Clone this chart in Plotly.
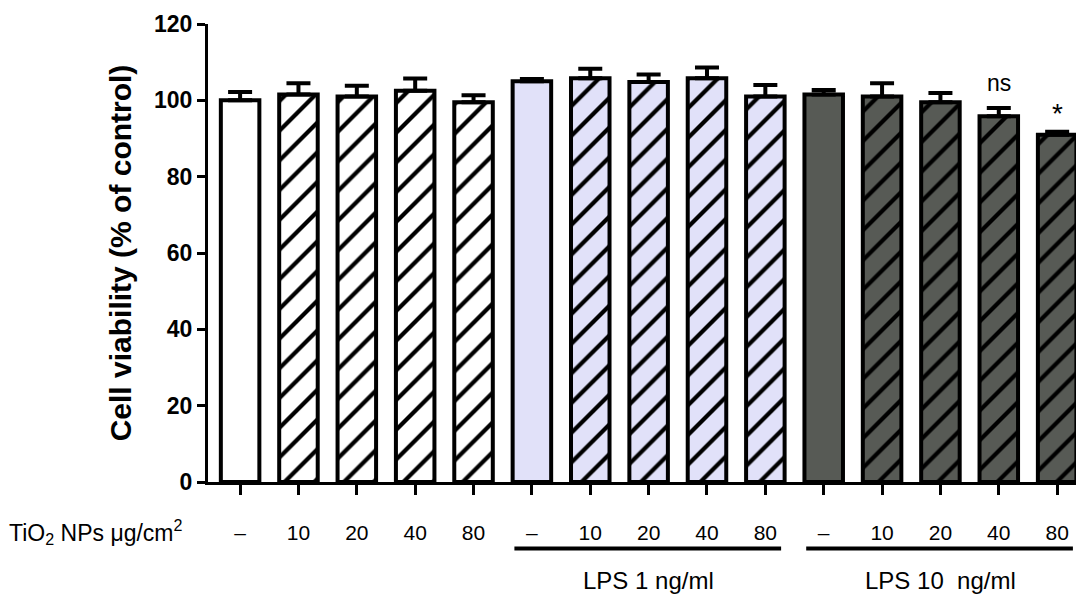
import plotly.graph_objects as go

# ---- data ----
doses = ["–", "10", "20", "40", "80",
         "–", "10", "20", "40", "80",
         "–", "10", "20", "40", "80"]
groups = ["Control"] * 5 + ["LPS 1 ng/ml"] * 5 + ["LPS 10  ng/ml"] * 5
viability = [100, 101.5, 101, 102.5, 99.5,
             105, 105.8, 104.8, 105.8, 101,
             101.5, 101, 99.5, 95.8, 91]
sem = [2.2, 3.0, 2.8, 3.2, 1.8,
       0.6, 2.5, 2.0, 2.8, 3.0,
       1.2, 3.5, 2.4, 2.2, 0.8]
hatched = [False, True, True, True, True] * 3
group_colors = {"Control": "#ffffff", "LPS 1 ng/ml": "#e1e1f9", "LPS 10  ng/ml": "#575a55"}
significance = {13: "ns", 14: "*"}
y_ticks = [0, 20, 40, 60, 80, 100, 120]

FONT = "Arial, Liberation Sans, Helvetica, sans-serif"

x = list(range(len(viability)))
group_order = ["Control", "LPS 1 ng/ml", "LPS 10  ng/ml"]

fig = go.Figure()
for g in group_order:
    idx = [i for i, gg in enumerate(groups) if gg == g]
    col = group_colors[g]
    fig.add_trace(go.Bar(
        x=[x[i] for i in idx], y=[viability[i] for i in idx], width=0.66,
        marker=dict(
            color=col,
            line=dict(color="black", width=4),
            pattern=dict(
                shape=["/" if hatched[i] else "" for i in idx],
                fgcolor="black", bgcolor=col, fgopacity=1,
                fillmode="replace",
                size=21, solidity=0.2,
            ),
        ),
        error_y=dict(type="data", symmetric=False,
                     array=[sem[i] for i in idx],
                     arrayminus=[0] * len(idx), color="black",
                     thickness=4, width=12),
        showlegend=False,
    ))

# significance marks
for i, txt in significance.items():
    top = viability[i] + sem[i]
    fig.add_annotation(x=i, y=top, xref="x", yref="y", text=txt,
                       showarrow=False, yanchor="bottom",
                       yshift=10 if txt == "ns" else 1,
                       font=dict(family=FONT, size=23 if txt == "ns" else 28,
                                 color="black"))

# left axis-row label
fig.add_annotation(x=-0.229, y=-0.11, xref="paper", yref="paper",
                   text="TiO<sub>2</sub> NPs μg/cm<sup>2</sup>",
                   showarrow=False, xanchor="left", yanchor="middle",
                   font=dict(family=FONT, size=23, color="black"))

# group underlines & labels
for g in group_order[1:]:
    idx = [i for i, gg in enumerate(groups) if gg == g]
    x0, x1 = idx[0] - 0.3, idx[-1] + 0.27
    fig.add_shape(type="line", xref="x", yref="paper", x0=x0, x1=x1,
                  y0=-0.145, y1=-0.145, line=dict(color="black", width=4))
    fig.add_annotation(x=(idx[0] + idx[-1]) / 2, y=-0.215, xref="x", yref="paper",
                       text=g.replace("  ", " &nbsp;"), showarrow=False,
                       yanchor="middle",
                       font=dict(family=FONT, size=24, color="black"))

fig.update_layout(
    width=1076, height=586,
    margin=dict(l=200, r=0, t=16, b=112),
    plot_bgcolor="white", paper_bgcolor="white",
    font=dict(family=FONT, color="black"),
    barmode="overlay",
)
fig.update_xaxes(
    range=[-0.55, 14.46], tickmode="array", tickvals=x, ticktext=doses,
    showline=True, linecolor="black", linewidth=3,
    ticks="outside", ticklen=10, tickwidth=2.5, tickcolor="black",
    ticklabelstandoff=20, tickfont=dict(family=FONT, size=21),
    showgrid=False, zeroline=False,
)
fig.update_yaxes(
    range=[0, 120], tickmode="array", tickvals=y_ticks,
    showline=True, linecolor="black", linewidth=3,
    ticks="outside", ticklen=8, tickwidth=3, tickcolor="black",
    tickfont=dict(family=FONT, size=23, weight="bold"),
    title=dict(text="<b>Cell viability (% of control)</b>",
               font=dict(family=FONT, size=30), standoff=14),
    showgrid=False, zeroline=False,
)

fig.write_html("out.html")
